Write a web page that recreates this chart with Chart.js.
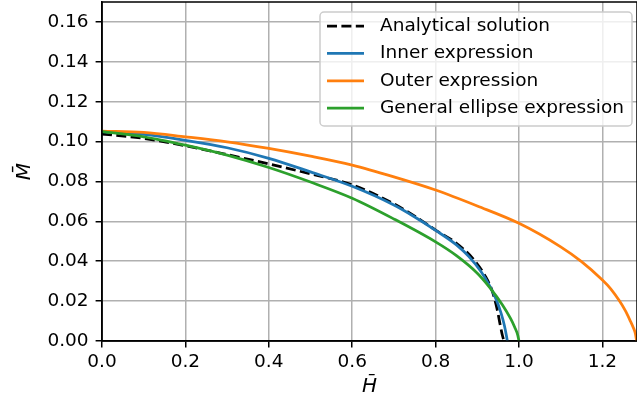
<!DOCTYPE html>
<html lang="en">
<head>
<meta charset="UTF-8">
<title>M vs H</title>
<script src="https://cdn.jsdelivr.net/npm/chart.js"></script>
<style>
  body { margin: 0; background: #fff; }
  #wrap { width: 637px; height: 407px; }
</style>
</head>
<body>
<div id="wrap"><canvas id="chart" width="637" height="407"></canvas></div>
<script>
// values
const hAnalytical = [0, 0.1, 0.2, 0.3, 0.4, 0.5, 0.6, 0.7, 0.75, 0.8, 0.85, 0.89, 0.92, 0.935, 0.947, 0.955, 0.96, 0.964];
const mAnalytical = [0.1038, 0.1016, 0.0979, 0.0935, 0.0888, 0.0838, 0.0783, 0.0688, 0.0626, 0.0556, 0.0490, 0.0412, 0.0322, 0.0255, 0.0165, 0.0080, 0.0030, 0];

const hInner = [0, 0.1, 0.2, 0.3, 0.4, 0.5, 0.6, 0.7, 0.75, 0.8, 0.85, 0.88, 0.91, 0.93, 0.945, 0.957, 0.965, 0.97, 0.972];
const mInner = [0.1050, 0.1036, 0.1006, 0.0969, 0.0916, 0.0848, 0.0776, 0.0682, 0.0622, 0.0555, 0.0482, 0.0423, 0.0345, 0.0275, 0.0210, 0.0140, 0.0078, 0.0025, 0];

const hOuter = [0, 0.1, 0.2, 0.3, 0.4, 0.5, 0.6, 0.7, 0.8, 0.9, 1.0, 1.1, 1.15, 1.2, 1.22, 1.24, 1.255, 1.266, 1.274, 1.279, 1.282];
const mOuter = [0.1052, 0.1046, 0.1024, 0.0999, 0.0966, 0.0927, 0.0882, 0.0823, 0.0757, 0.0677, 0.0590, 0.0472, 0.0398, 0.0306, 0.0262, 0.0204, 0.0152, 0.0105, 0.0068, 0.0038, 0];

const hEllipse = [0, 0.1, 0.2, 0.3, 0.4, 0.5, 0.6, 0.7, 0.8, 0.85, 0.9, 0.93, 0.96, 0.98, 0.99, 0.997, 1.0];
const mEllipse = [0.1050, 0.1024, 0.0982, 0.0932, 0.0870, 0.0797, 0.0716, 0.0612, 0.0497, 0.0428, 0.0340, 0.0268, 0.0182, 0.0112, 0.0068, 0.0030, 0];

const seriesNames = ['Analytical solution', 'Inner expression', 'Outer expression', 'General ellipse expression'];
const xTicks = [0, 0.2, 0.4, 0.6, 0.8, 1.0, 1.2];
const yTicks = [0, 0.02, 0.04, 0.06, 0.08, 0.10, 0.12, 0.14, 0.16];
const xMax = 1.283;
const yMax = 0.17;

function pts(hs, ms) {
    return hs.map((h, i) => ({ x: h, y: ms[i] }));
}

Chart.defaults.font.family = '"DejaVu Sans", sans-serif';
Chart.defaults.font.size = 18.5;
Chart.defaults.color = '#000';

// top and right spines
const frame = {
    id: 'frame',
    afterDatasetsDraw(chart) {
        const a = chart.chartArea, ctx = chart.ctx;
        ctx.save();
        ctx.strokeStyle = '#000';
        ctx.lineWidth = 1.5;
        ctx.strokeRect(a.left, a.top, a.right - a.left, a.bottom - a.top);
        ctx.restore();
    }
};

// matplotlib style legend, upper right
const legendBox = {
    id: 'legendBox',
    afterDraw(chart) {
        const ctx = chart.ctx;
        ctx.save();
        ctx.beginPath();
        ctx.roundRect(320, 12, 312, 114, 4);
        ctx.fillStyle = 'rgba(255,255,255,0.8)';
        ctx.fill();
        ctx.strokeStyle = '#cccccc';
        ctx.lineWidth = 1.5;
        ctx.stroke();
        chart.data.datasets.forEach((ds, i) => {
            const y = 26 + i * 27.4;
            ctx.beginPath();
            ctx.setLineDash(ds.borderDash || []);
            ctx.strokeStyle = ds.borderColor;
            ctx.lineWidth = ds.borderWidth;
            ctx.moveTo(327, y);
            ctx.lineTo(364, y);
            ctx.stroke();
            ctx.setLineDash([]);
            ctx.fillStyle = '#000';
            ctx.font = '18.5px "DejaVu Sans"';
            ctx.textBaseline = 'middle';
            ctx.fillText(ds.label, 380, y);
        });
        ctx.restore();
    }
};

const common = { showLine: true, pointRadius: 0, borderWidth: 2.75, fill: false, cubicInterpolationMode: 'monotone' };

new Chart(document.getElementById('chart'), {
    type: 'scatter',
    data: {
        datasets: [
            Object.assign({ label: seriesNames[0], data: pts(hAnalytical, mAnalytical), borderColor: '#000000', borderDash: [10, 4.4], order: 4 }, common),
            Object.assign({ label: seriesNames[1], data: pts(hInner, mInner), borderColor: '#1f77b4', order: 3 }, common),
            Object.assign({ label: seriesNames[2], data: pts(hOuter, mOuter), borderColor: '#ff7f0e', order: 2 }, common),
            Object.assign({ label: seriesNames[3], data: pts(hEllipse, mEllipse), borderColor: '#2ca02c', order: 1 }, common)
        ]
    },
    options: {
        responsive: false,
        animation: false,
        layout: { padding: { top: 2, right: 0, left: 0, bottom: 0 } },
        plugins: { legend: { display: false }, tooltip: { enabled: false } },
        scales: {
            x: {
                type: 'linear',
                min: 0,
                max: xMax,
                afterBuildTicks: s => { s.ticks = xTicks.map(v => ({ value: v })); },
                afterFit: s => { s.height = 66; s.paddingLeft = 0; s.paddingRight = 0; },
                ticks: { callback: v => v.toFixed(1), padding: 4, maxRotation: 0 },
                grid: { color: '#b0b0b0', lineWidth: 1.5, tickColor: '#000', tickWidth: 1.5, tickLength: 6.4 },
                border: { color: '#000', width: 1.5 },
                title: { display: true, text: 'H\u0304', font: { style: 'italic', size: 20 }, padding: { top: 0, bottom: 8 } }
            },
            y: {
                type: 'linear',
                min: 0,
                max: yMax,
                afterBuildTicks: s => { s.ticks = yTicks.map(v => ({ value: v })); },
                afterFit: s => { s.width = 102; s.paddingTop = 0; s.paddingBottom = 0; },
                ticks: { callback: v => v.toFixed(2), padding: 7 },
                grid: { color: '#b0b0b0', lineWidth: 1.5, tickColor: '#000', tickWidth: 1.5, tickLength: 6.4 },
                border: { color: '#000', width: 1.5 },
                title: { display: true, text: 'M\u0304', font: { style: 'italic', size: 20 }, padding: { top: 13, bottom: 0 } }
            }
        }
    },
    plugins: [frame, legendBox]
});
</script>
</body>
</html>
